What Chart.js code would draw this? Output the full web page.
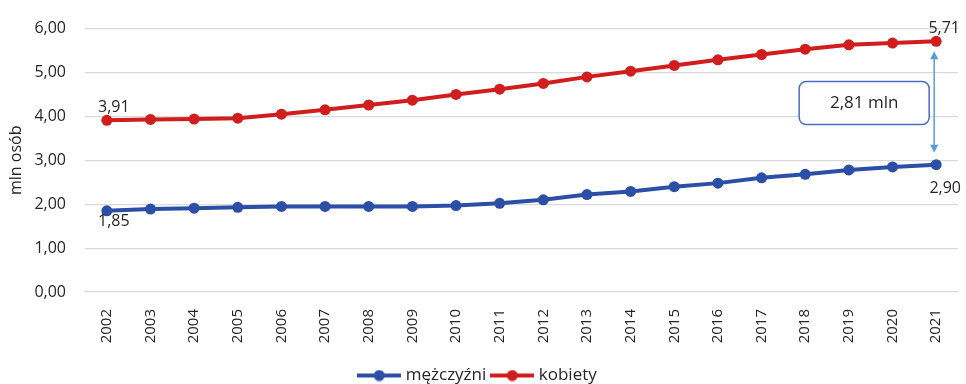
<!DOCTYPE html>
<html lang="pl">
<head>
<meta charset="utf-8">
<title>Liczba osób – mężczyźni i kobiety</title>
<script src="https://cdn.jsdelivr.net/npm/chart.js@4/dist/chart.umd.min.js"></script>
<style>
  html, body { margin: 0; padding: 0; background: #ffffff; }
  #wrap { width: 966px; height: 384px; position: relative; }
</style>
</head>
<body>
<div id="wrap"><canvas id="chart" width="966" height="384"></canvas></div>
<script>
// Lata
const years = ['2002','2003','2004','2005','2006','2007','2008','2009','2010','2011',
               '2012','2013','2014','2015','2016','2017','2018','2019','2020','2021'];
// mln osób
const men   = [1.85, 1.89, 1.91, 1.93, 1.95, 1.95, 1.95, 1.95, 1.97, 2.02,
               2.10, 2.22, 2.29, 2.40, 2.48, 2.60, 2.68, 2.78, 2.85, 2.90];
const women = [3.91, 3.93, 3.94, 3.96, 4.05, 4.15, 4.26, 4.37, 4.50, 4.62,
               4.75, 4.90, 5.03, 5.16, 5.29, 5.41, 5.53, 5.63, 5.67, 5.71];
const yTicks = [0, 1, 2, 3, 4, 5, 6];
const seriesNames = ['mężczyźni', 'kobiety'];

const BLUE = '#2b4ea6';
const RED = '#d01d1d';
const TEXT = '#262626';
const FONT = "'Open Sans', 'Noto Sans', sans-serif";

const fmt = v => v.toFixed(2).replace('.', ',');

// legend marker: short line with a dot in the middle
function lineMarker(color) {
  const c = document.createElement('canvas');
  c.width = 44; c.height = 12;
  const g = c.getContext('2d');
  g.strokeStyle = color; g.lineWidth = 4;
  g.beginPath(); g.moveTo(0, 6); g.lineTo(44, 6); g.stroke();
  g.fillStyle = color;
  g.beginPath(); g.arc(22, 6, 5.5, 0, Math.PI * 2); g.fill();
  return c;
}
const markers = [lineMarker(BLUE), lineMarker(RED)];

// value labels at the first and last point, plus the gap callout
const annotations = {
  id: 'annotations',
  afterDatasetsDraw(chart) {
    const { ctx, scales: { x, y } } = chart;
    const last = years.length - 1;
    ctx.save();
    ctx.font = '16px ' + FONT;
    ctx.fillStyle = TEXT;
    ctx.textAlign = 'center';
    ctx.textBaseline = 'middle';
    const lbl = (arr, i, dx, dy) =>
      ctx.fillText(fmt(arr[i]), x.getPixelForValue(i) + dx, y.getPixelForValue(arr[i]) + dy);
    lbl(women, 0, 7, -13);
    lbl(men, 0, 7, 11);
    lbl(women, last, 8, -13);
    lbl(men, last, 9, 24);

    // double arrow between the last points
    const ax = x.getPixelForValue(last) - 2;
    const yTop = y.getPixelForValue(women[last]) + 10;
    const yBot = y.getPixelForValue(men[last]) - 12;
    ctx.strokeStyle = '#5b9bd5';
    ctx.fillStyle = '#5b9bd5';
    ctx.lineWidth = 1.5;
    ctx.beginPath(); ctx.moveTo(ax, yTop + 4); ctx.lineTo(ax, yBot - 4); ctx.stroke();
    ctx.beginPath(); ctx.moveTo(ax, yTop); ctx.lineTo(ax - 4, yTop + 8); ctx.lineTo(ax + 4, yTop + 8); ctx.closePath(); ctx.fill();
    ctx.beginPath(); ctx.moveTo(ax, yBot); ctx.lineTo(ax - 4, yBot - 8); ctx.lineTo(ax + 4, yBot - 8); ctx.closePath(); ctx.fill();

    // callout box with the difference
    const diff = women[last] - men[last];
    const cx = x.getPixelForValue(last) - 72;
    const cy = y.getPixelForValue((women[last] + men[last]) / 2);
    const w = 130, h = 43, r = 7;
    ctx.strokeStyle = '#4a6cc4';
    ctx.lineWidth = 1.5;
    ctx.fillStyle = '#ffffff';
    ctx.beginPath();
    ctx.roundRect(cx - w / 2, cy - h / 2, w, h, r);
    ctx.fill();
    ctx.stroke();
    ctx.fillStyle = TEXT;
    ctx.font = '17px ' + FONT;
    ctx.fillText(diff.toFixed(2).replace('.', ',') + ' mln', cx, cy);
    ctx.restore();
  }
};

new Chart(document.getElementById('chart'), {
  type: 'line',
  data: {
    labels: years,
    datasets: [
      { label: seriesNames[0], data: men, borderColor: BLUE, backgroundColor: BLUE,
        borderWidth: 4, pointRadius: 5.5, pointHoverRadius: 5.5, pointBackgroundColor: BLUE,
        pointBorderWidth: 0, tension: 0 },
      { label: seriesNames[1], data: women, borderColor: RED, backgroundColor: RED,
        borderWidth: 4, pointRadius: 5.5, pointHoverRadius: 5.5, pointBackgroundColor: RED,
        pointBorderWidth: 0, tension: 0 }
    ]
  },
  options: {
    responsive: false,
    animation: false,
    devicePixelRatio: 1,
    layout: { padding: { top: 23, right: 8, left: 0, bottom: -10 } },
    plugins: {
      tooltip: { enabled: false },
      legend: {
        position: 'bottom',
        labels: {
          usePointStyle: true,
          pointStyleWidth: 36,
          font: { family: FONT, size: 17 },
          color: TEXT,
          padding: 8,
          generateLabels(chart) {
            const items = Chart.defaults.plugins.legend.labels.generateLabels(chart);
            items.forEach((it, i) => { it.pointStyle = markers[i]; });
            return items;
          }
        }
      }
    },
    scales: {
      x: {
        offset: true,
        grid: { display: false },
        border: { display: false },
        ticks: {
          minRotation: 90, maxRotation: 90, padding: 9,
          font: { family: FONT, size: 15 }, color: TEXT
        },
        afterFit(s) { s.height = 67; }
      },
      y: {
        min: 0, max: 6,
        afterBuildTicks(s) { s.ticks = yTicks.map(v => ({ value: v })); },
        grid: { color: '#d9d9d9', lineWidth: 1.2, drawTicks: false },
        border: { display: false },
        ticks: {
          padding: 19,
          font: { family: FONT, size: 16 }, color: TEXT,
          callback: v => fmt(v)
        },
        title: {
          display: true, text: 'mln osób',
          font: { family: FONT, size: 16 }, color: TEXT,
          padding: { top: 7, bottom: 0 }
        },
        afterFit(s) { s.width = 85; }
      }
    }
  },
  plugins: [annotations]
});
</script>
</body>
</html>
